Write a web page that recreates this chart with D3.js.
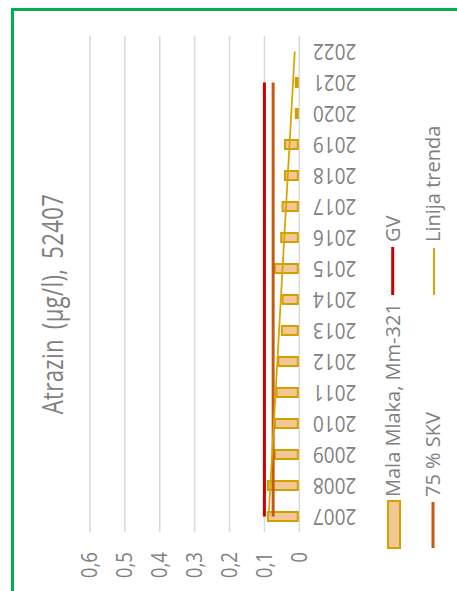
<!DOCTYPE html>
<html><head><meta charset="utf-8">
<script src="https://cdn.jsdelivr.net/npm/d3@7"></script>
<style>html,body{margin:0;padding:0;background:#fff;overflow:hidden}svg{display:block}</style>
</head><body>
<svg id="c" width="457" height="591"></svg>
<script>
const years = [2007,2008,2009,2010,2011,2012,2013,2014,2015,2016,2017,2018,2019,2020,2021,2022];
const malaMlaka = [0.09,0.09,0.07,0.07,0.065,0.06,0.05,0.048,0.07,0.052,0.048,0.041,0.041,0.01,0.01,null];
const gv = [0.1,0.1,0.1,0.1,0.1,0.1,0.1,0.1,0.1,0.1,0.1,0.1,0.1,0.1,0.1,null];
const skv75 = [0.075,0.075,0.075,0.075,0.075,0.075,0.075,0.075,0.075,0.075,0.075,0.075,0.075,0.075,0.075,null];
const trendYears = [2007,2022];
const trendValues = [0.088,0.013];
const yTicks = [0,0.1,0.2,0.3,0.4,0.5,0.6];
const title = "Atrazin (µg/l), 52407";
const legendLabels = ["Mala Mlaka, Mm-321","GV","75 % SKV","Linija trenda"];

const svg = d3.select("#c");
const FONT = "'Open Sans', sans-serif";
const TXT = "#808080";

// green frame
svg.append("rect").attr("x",12.5).attr("y",9.5).attr("width",520).attr("height",620)
  .attr("fill","none").attr("stroke","#00B050").attr("stroke-width",3);

// scales (chart drawn rotated: values run right-to-left, years top-to-bottom reversed)
const x = d3.scaleLinear().domain([0,0.6]).range([299.3,90]);
const y = d3.scaleBand().domain(years.slice().reverse()).range([36,532]).padding(0);
const yc = d => y(d) + y.bandwidth()/2;

// gridlines
svg.append("g").selectAll("line").data(yTicks).join("line")
  .attr("x1",d=>x(d)).attr("x2",d=>x(d)).attr("y1",36).attr("y2",532)
  .attr("stroke","#d9d9d9").attr("stroke-width",1.5);

// value tick labels (rotated -90)
svg.append("g").selectAll("text").data(yTicks).join("text")
  .attr("transform",d=>`translate(${x(d)},552) rotate(-90) scale(0.89,1)`)
  .attr("dy","0.35em").attr("text-anchor","end")
  .attr("font-family",FONT).attr("font-size",21).attr("fill",TXT)
  .text(d=>d3.format(".1f")(d).replace(".",",").replace(/^0,0$/,"0"));

// year labels (rotated 180)
svg.append("g").selectAll("text").data(years).join("text")
  .attr("transform",d=>`translate(313,${yc(d)}) rotate(180) scale(0.9,1)`)
  .attr("dy","0.35em").attr("text-anchor","end")
  .attr("font-family",FONT).attr("font-size",21).attr("fill",TXT)
  .text(d=>d);

// bars
const barH = 9;
svg.append("g").selectAll("rect").data(years.map((d,i)=>({year:d,v:malaMlaka[i]})).filter(d=>d.v!=null)).join("rect")
  .attr("x",d=>x(d.v)).attr("width",d=>x(0)-1.5-x(d.v))
  .attr("y",d=>yc(d.year)-barH/2).attr("height",barH)
  .attr("fill","#F0C896").attr("stroke","#D4A000").attr("stroke-width",2);

// GV and SKV lines
const line = d3.line().defined(d=>d.v!=null).x(d=>x(d.v)).y(d=>yc(d.year));
svg.append("path").datum(years.map((d,i)=>({year:d,v:gv[i]})))
  .attr("d",line).attr("fill","none").attr("stroke","#CC0000").attr("stroke-width",3);
svg.append("path").datum(years.map((d,i)=>({year:d,v:skv75[i]})))
  .attr("d",line).attr("fill","none").attr("stroke","#C55A11").attr("stroke-width",3);

// trend line
svg.append("path").datum(trendYears.map((d,i)=>({year:d,v:trendValues[i]})))
  .attr("d",line).attr("fill","none").attr("stroke","#D9A300").attr("stroke-width",1.75);

// title
svg.append("text").attr("transform","translate(63,304) rotate(-90) scale(0.76,1)")
  .attr("text-anchor","middle").attr("font-family",FONT).attr("font-size",29).attr("fill",TXT)
  .attr("word-spacing",5).attr("letter-spacing",0.5)
  .text(title);

// legend
const lg = svg.append("g");
lg.append("rect").attr("x",388).attr("y",501).attr("width",12).attr("height",47)
  .attr("fill","#F0C896").attr("stroke","#D4A000").attr("stroke-width",2);
lg.append("line").attr("x1",392.7).attr("x2",392.7).attr("y1",247).attr("y2",295)
  .attr("stroke","#CC0000").attr("stroke-width",3);
lg.append("line").attr("x1",433).attr("x2",433).attr("y1",502).attr("y2",548)
  .attr("stroke","#C55A11").attr("stroke-width",3);
lg.append("line").attr("x1",434).attr("x2",434).attr("y1",248).attr("y2",295)
  .attr("stroke","#D9A300").attr("stroke-width",2);
const legPos = [[400,497],[400,242],[440,497],[440,242]];
lg.selectAll("text").data(legendLabels).join("text")
  .attr("transform",(d,i)=>`translate(${legPos[i][0]},${legPos[i][1]}) rotate(-90)`)
  .attr("font-family",FONT).attr("font-size",20).attr("fill",TXT)
  .text(d=>d);
</script>
</body></html>
